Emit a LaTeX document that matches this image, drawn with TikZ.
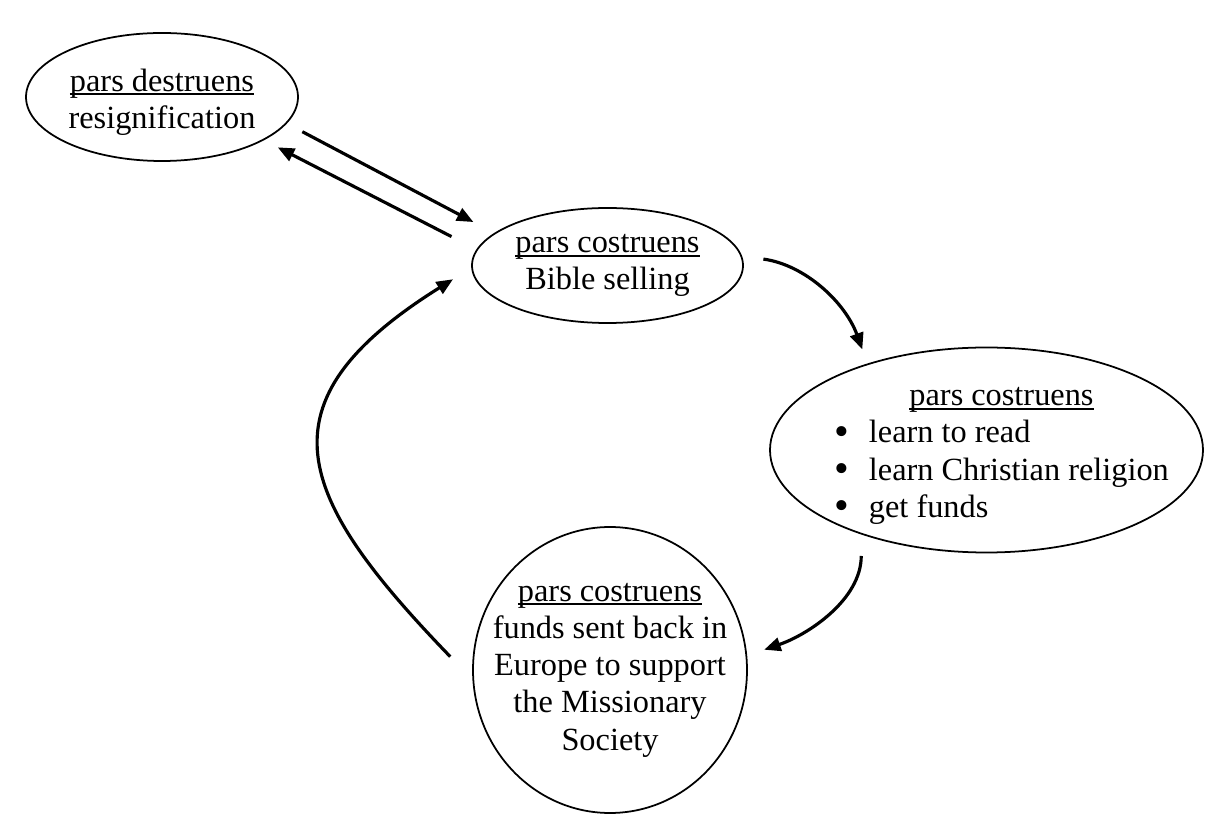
\documentclass[tikz,border=0pt]{standalone}
\usepackage{fontspec}
\usepackage{graphicx}
\setmainfont{Liberation Serif}
\usetikzlibrary{arrows.meta}
\usetikzlibrary{shapes.geometric}
\newcommand{\uln}[1]{\setbox0\hbox{#1}\rlap{\rule[-0.13em]{\wd0}{0.06em}}\box0}
\newcommand{\bul}{\smash{\raisebox{-0.07em}{\scalebox{1.3}{\textbullet}}}\hspace{0.4cm}}
\tikzset{
    bubble/.style = {
        draw, ellipse, line width=1pt, inner sep=0pt, align=center
    },
    txt/.style = {
        align=center, font=\fontsize{18.4}{21.2}\selectfont
    },
    link/.style = {
        line width=1.8pt, -{Triangle[length=3.3mm,width=2.7mm]}
    },
}

\begin{document}
\begin{tikzpicture}
        \useasboundingbox (0,0) rectangle (24.56,16.68);

        % Place the ellipses
        \node [bubble, minimum width=5.44cm, minimum height=2.56cm] (destruens) at (3.24,14.74) {};
        \node [txt] (destruens-text) at ([yshift=-0.1cm]destruens.center)
            {\uln{pars destruens}\\resignification};
        \node [bubble, txt, minimum width=5.42cm, minimum height=2.3cm] (selling) at (12.15,11.37)
            {\uln{pars costruens}\\Bible selling};
        \node [bubble, minimum width=8.66cm, minimum height=4.1cm] (learning) at (19.73,7.68) {};
        \node [txt] (learning-text) at ([xshift=0.3cm, yshift=-0.16cm]learning.center)
            {\uln{pars costruens}\\
             \begin{tabular}[t]{@{}l@{}}
             \bul learn to read\\
             \bul learn Christian religion\\
             \bul get funds
             \end{tabular}};
        \node [bubble, minimum width=5.48cm, minimum height=5.72cm] (society) at (12.2,3.28) {};
        \node [txt] (society-text) at (society.center)
            {\uln{pars costruens}\\funds sent back in\\Europe to support\\the Missionary\\Society};

        % Draw connections
        \draw[link, shorten <=0.35cm, shorten >=0.47cm] (destruens.-12.85) -- (selling.164.3);
        \draw[link, shorten <=0.56cm, shorten >=0.31cm] (selling.173.2) -- (destruens.-23);
        \draw[link, shorten <=0.43cm, shorten >=0.30cm] (selling.4.5) to[out=-8, in=110] (learning.144);
        \draw[link, shorten <=0.43cm, shorten >=0.36cm] (learning.214.6) to[out=-90, in=19] (society.6.8);
        \draw[link, shorten <=0.64cm, shorten >=0.43cm] (society.184.7) to[out=134, in=212, looseness=1.58] (selling.181);
    \end{tikzpicture}
\end{document}
